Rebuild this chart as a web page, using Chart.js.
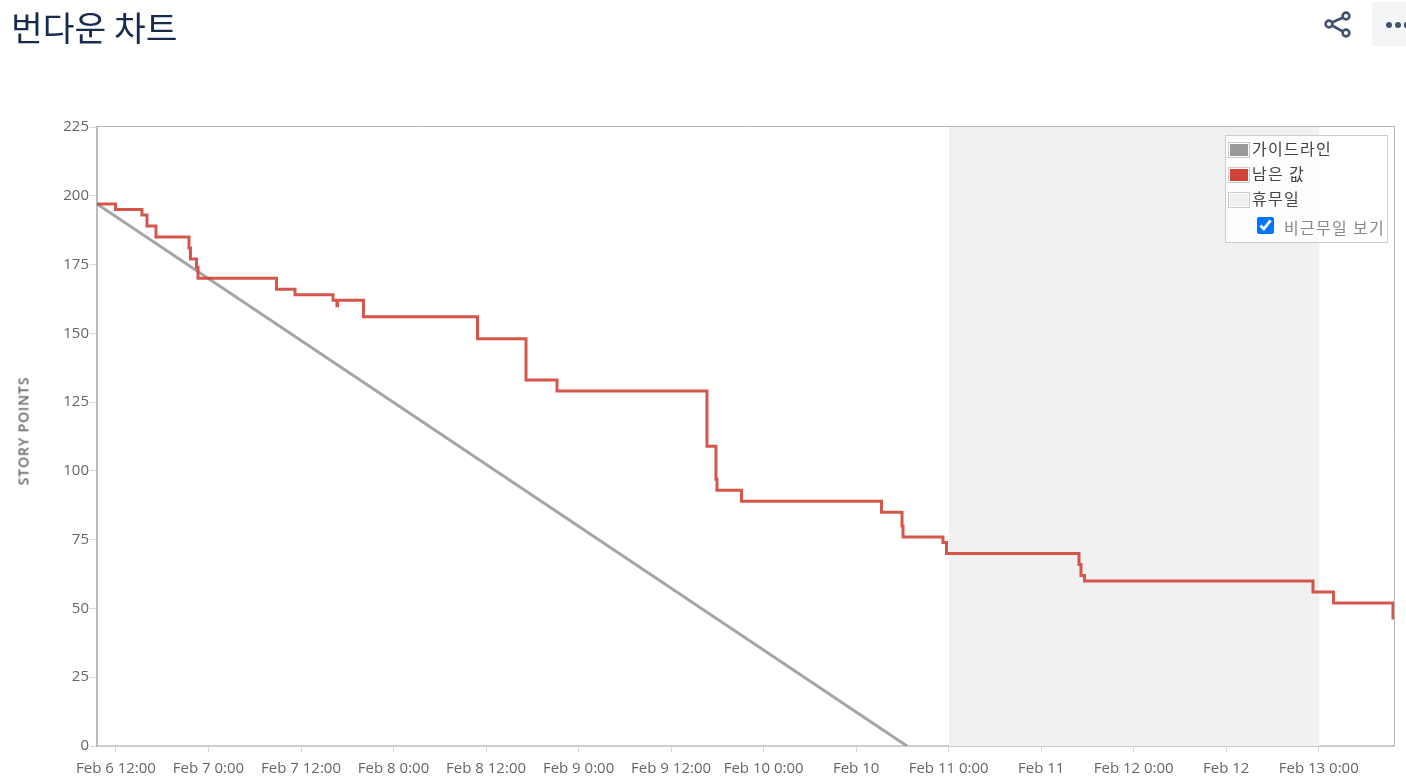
<!DOCTYPE html>
<html>
<head>
<meta charset="utf-8">
<title>번다운 차트</title>
<script src="https://cdn.jsdelivr.net/npm/chart.js@4/dist/chart.umd.js"></script>
<style>
  html, body { margin: 0; padding: 0; background: #fff; overflow: hidden; }
  #wrap { position: relative; width: 1406px; height: 781px; font-family: "Noto Sans CJK KR", sans-serif; }
  #myChart { position: absolute; left: 0; top: 0; }
  h1 { position: absolute; left: 11px; top: 4px; margin: 0; font-size: 34.5px; line-height: 44px; font-weight: 400; color: #172b4d; }
  #share { position: absolute; left: 1324px; top: 11px; }
  #more { position: absolute; left: 1372px; top: 2px; width: 34px; height: 44px; background: #f4f5f7; border-radius: 3px 0 0 3px; }
  #more span { position: absolute; top: 20px; width: 6px; height: 6px; border-radius: 50%; background: #42526e; }
  #yTitle { position: absolute; left: 23px; top: 431px; transform: translate(-50%, -50%) rotate(-90deg); font-family: "Open Sans", sans-serif; font-size: 14px; font-weight: 600; letter-spacing: 0.9px; color: #666; white-space: nowrap; }
  #legend { position: absolute; left: 1225px; top: 135px; width: 161px; height: 106px; border: 1px solid #ccc; background: rgba(255,255,255,0.85); font-size: 16px; letter-spacing: 1.3px; color: #444; }
  .row { position: absolute; left: 2px; height: 18px; line-height: 18px; white-space: nowrap; }
  .swatch { position: absolute; left: 0; top: 1px; width: 18px; height: 12px; border: 1px solid #ccc; padding: 1px; background-clip: content-box; }
  .row span.txt { position: absolute; left: 24px; top: -2px; }
  #legend input { position: absolute; left: 31px; top: 81px; width: 17px; height: 17px; margin: 0; accent-color: #0075ff; }
  #legend label { position: absolute; left: 58px; top: 80px; line-height: 22px; color: #888; white-space: nowrap; }
</style>
</head>
<body>
<div id="wrap">
  <canvas id="myChart" width="1406" height="781"></canvas>
  <h1>번다운 차트</h1>
  <div id="yTitle"></div>
  <svg id="share" width="28" height="28" viewBox="0 0 28 28" fill="none" stroke="#42526e" stroke-width="2.6">
    <circle cx="5" cy="13" r="3.4"/><circle cx="22" cy="5" r="3.4"/><circle cx="22" cy="22" r="3.4"/>
    <path d="M8 11.5 L19 6.5 M8 14.5 L19 20.5"/>
  </svg>
  <div id="more"><span style="left:14px"></span><span style="left:23px"></span><span style="left:32px;width:2px;border-radius:3px 0 0 3px"></span></div>
  <div id="legend"></div>
</div>
<script>
// heures depuis Feb 6 12:00
const tickHours = [0, 12, 24, 36, 48, 60, 72, 84, 96, 108, 120, 132, 144, 156]
const tickLabels = ['Feb 6 12:00', 'Feb 7 0:00', 'Feb 7 12:00', 'Feb 8 0:00', 'Feb 8 12:00', 'Feb 9 0:00', 'Feb 9 12:00',
    'Feb 10 0:00', 'Feb 10', 'Feb 11 0:00', 'Feb 11', 'Feb 12 0:00', 'Feb 12', 'Feb 13 0:00']

const remainingHours = [-2.46, -0.06, 3.37, 4.02, 5.19, 9.47, 9.66, 10.44, 10.64, 20.82, 23.22, 28.15, 28.66, 28.73, 32.10,
    46.89, 53.18, 57.20, 76.65, 77.82, 77.95, 81.13, 99.29, 101.95, 102.08, 107.26, 107.72, 124.90, 125.16, 125.62,
    155.25, 157.91, 165.63]
const remainingValues = [197, 195, 193, 189, 185, 181, 177, 174, 170, 166, 164, 162, 160, 162, 156,
    148, 133, 129, 109, 97, 93, 89, 85, 80, 76, 74, 70, 66, 62, 60,
    56, 52, 46]

const guideHours = [-2.46, 102.59]
const guideValues = [197, 0]

const holidayHours = [108, 156.1]
const holidayValues = [225, 225]

const legendLabels = ['가이드라인', '남은 값', '휴무일']
const legendColors = ['#999999', '#d04437', '#f0f0f0']
const checkboxLabel = '비근무일 보기'
const yAxisTitle = 'STORY POINTS'

const toPoints = (xs, ys) => xs.map((x, i) => ({ x: x, y: ys[i] }))

const data = {
    datasets: [{
        label: legendLabels[1],
        data: toPoints(remainingHours, remainingValues),
        stepped: 'before',
        borderColor: 'rgba(208, 68, 55, 0.9)',
        borderWidth: 3,
        pointRadius: 0,
        fill: false,
        order: 1
    }, {
        label: legendLabels[0],
        data: toPoints(guideHours, guideValues),
        borderColor: 'rgba(140, 140, 140, 0.78)',
        borderWidth: 3,
        pointRadius: 0,
        fill: false,
        order: 2
    }, {
        label: legendLabels[2],
        data: toPoints(holidayHours, holidayValues),
        borderWidth: 0,
        pointRadius: 0,
        fill: 'origin',
        backgroundColor: '#f1f1f1',
        order: 3
    }]
};

// cadre gris du graphique
const framePlugin = {
    id: 'frame',
    beforeDatasetsDraw(chart) {
        const a = chart.chartArea
        const c = chart.ctx
        c.save()
        c.strokeStyle = '#b8b8b8'
        c.lineWidth = 1
        c.beginPath()
        c.moveTo(a.left, a.top - 0.5)
        c.lineTo(a.right + 0.5, a.top - 0.5)
        c.lineTo(a.right + 0.5, a.bottom)
        c.stroke()
        c.restore()
    }
}

const tickFont = { family: '"Open Sans", sans-serif', size: 15 }

const config = {
    type: 'line',
    data: data,
    plugins: [framePlugin],
    options: {
        responsive: false,
        animation: false,
        layout: { padding: { top: 127, right: 12, left: 0, bottom: 0 } },
        plugins: { legend: { display: false }, tooltip: { enabled: false } },
        scales: {
            x: {
                type: 'linear',
                min: -2.46,
                max: 165.76,
                afterFit(s) { s.height = 35 },
                afterBuildTicks(s) { s.ticks = tickHours.map((v) => ({ value: v })) },
                grid: { drawOnChartArea: false, tickLength: 6, tickColor: '#d8d8d8' },
                border: { color: '#cccccc', width: 2 },
                ticks: {
                    autoSkip: false,
                    maxRotation: 0,
                    padding: 8,
                    color: '#666666',
                    font: tickFont,
                    callback: (v) => tickLabels[tickHours.indexOf(v)]
                }
            },
            y: {
                min: 0,
                max: 225,
                afterFit(s) { s.width = 97 },
                grid: { drawOnChartArea: false, tickLength: 7, tickColor: '#d8d8d8' },
                border: { color: '#bbbbbb', width: 2 },
                ticks: { stepSize: 25, padding: 1, color: '#666666', font: tickFont }
            }
        }
    }
};

const ctx = document.getElementById('myChart');
new Chart(ctx, config);

document.getElementById('yTitle').textContent = yAxisTitle

// legende en html, a cause de la case a cocher
const legend = document.getElementById('legend')
legendLabels.forEach((label, i) => {
    const row = document.createElement('div')
    row.className = 'row'
    row.style.top = (5 + i * 25) + 'px'
    const sw = document.createElement('span')
    sw.className = 'swatch'
    sw.style.backgroundColor = legendColors[i]
    const txt = document.createElement('span')
    txt.className = 'txt'
    txt.textContent = label
    row.appendChild(sw)
    row.appendChild(txt)
    legend.appendChild(row)
})
const check = document.createElement('input')
check.type = 'checkbox'
check.id = 'nonwork'
check.checked = true
const checkText = document.createElement('label')
checkText.htmlFor = 'nonwork'
checkText.textContent = checkboxLabel
legend.appendChild(check)
legend.appendChild(checkText)
</script>
</body>
</html>
